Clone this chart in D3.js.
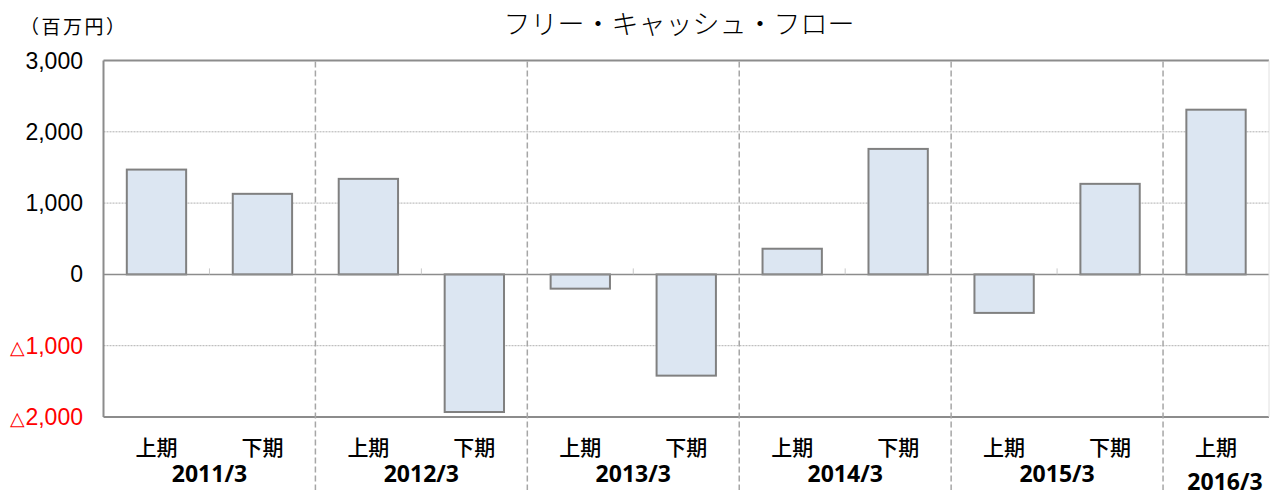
<!DOCTYPE html>
<html>
<head>
<meta charset="utf-8">
<script src="https://cdn.jsdelivr.net/npm/d3@7"></script>
<style>
  body { margin: 0; background: #fff; }
  text { font-family: "Liberation Sans", Arial, sans-serif; }
  .jp { font-family: "Noto Sans CJK JP", sans-serif; }
  .yr { font-family: "Noto Sans", sans-serif; }
</style>
</head>
<body>
<script>
const years = ['2011/3', '2012/3', '2013/3', '2014/3', '2015/3', '2016/3'];
const halves = ['上期', '下期', '上期', '下期', '上期', '下期', '上期', '下期', '上期', '下期', '上期'];
const values = [1470, 1130, 1340, -1930, -200, -1420, 360, 1760, -540, 1270, 2310];
const yTicks = [3000, 2000, 1000, 0, -1000, -2000];

const width = 1270, height = 490;
const margin = { top: 60.5, left: 103.5, right: 1, bottom: 73 };

const svg = d3.select('body').append('svg').attr('width', width).attr('height', height);

const idx = d3.range(values.length);
const x = d3.scaleBand().domain(idx).range([margin.left, width - margin.right]).paddingInner(0.44).paddingOuter(0.22);
const y = d3.scaleLinear().domain([-2000, 3000]).range([height - margin.bottom, margin.top]);
const step = x.step();
const x0 = margin.left;

// gridlines
svg.append('g').selectAll('line')
  .data(yTicks.filter(d => d !== 0 && d !== 3000 && d !== -2000))
  .enter().append('line')
    .attr('x1', x0).attr('x2', width - margin.right)
    .attr('y1', d => y(d)).attr('y2', d => y(d))
    .attr('stroke', '#b0b0b0').attr('stroke-width', 1).attr('stroke-dasharray', '2,1');

// bars
svg.append('g').selectAll('rect')
  .data(values)
  .enter().append('rect')
    .attr('x', (d, i) => x(i))
    .attr('width', x.bandwidth())
    .attr('y', d => y(Math.max(0, d)))
    .attr('height', d => Math.abs(y(d) - y(0)))
    .attr('fill', '#dce6f2')
    .attr('stroke', '#808080').attr('stroke-width', 2);

// zero line + small ticks
svg.append('line')
  .attr('x1', x0).attr('x2', width - margin.right)
  .attr('y1', y(0)).attr('y2', y(0))
  .attr('stroke', '#8c8c8c').attr('stroke-width', 1.5);
svg.append('g').selectAll('line')
  .data(d3.range(1, values.length))
  .enter().append('line')
    .attr('x1', d => x0 + d * step).attr('x2', d => x0 + d * step)
    .attr('y1', y(0)).attr('y2', y(0) - 6)
    .attr('stroke', '#c8c8c8').attr('stroke-width', 1);

// frame
svg.append('line').attr('x1', x0).attr('x2', width - margin.right)
  .attr('y1', y(3000)).attr('y2', y(3000)).attr('stroke', '#8c8c8c').attr('stroke-width', 2);
svg.append('line').attr('x1', x0).attr('x2', width - margin.right)
  .attr('y1', y(-2000)).attr('y2', y(-2000)).attr('stroke', '#8c8c8c').attr('stroke-width', 2);
svg.append('line').attr('x1', x0).attr('x2', x0)
  .attr('y1', y(3000)).attr('y2', y(-2000)).attr('stroke', '#8c8c8c').attr('stroke-width', 2);
svg.append('line').attr('x1', width - margin.right).attr('x2', width - margin.right)
  .attr('y1', y(3000)).attr('y2', y(-2000)).attr('stroke', '#e0e0e0').attr('stroke-width', 1);

// year separators
svg.append('g').selectAll('line')
  .data(d3.range(1, years.length))
  .enter().append('line')
    .attr('x1', d => x0 + d * 2 * step).attr('x2', d => x0 + d * 2 * step)
    .attr('y1', y(3000) + 1).attr('y2', height)
    .attr('stroke', '#a6a6a6').attr('stroke-width', 1.5).attr('stroke-dasharray', '6,3');

// y tick labels
svg.append('g').selectAll('text')
  .data(yTicks)
  .enter().append('text')
    .attr('x', 83).attr('y', d => y(d) + 8)
    .attr('text-anchor', 'end')
    .attr('font-size', 23)
    .attr('fill', d => d < 0 ? '#ff0000' : '#000')
    .html(d => d < 0
      ? `<tspan font-size="19">△</tspan>${d3.format(',')(-d)}`
      : d3.format(',')(d));

// half labels
svg.append('g').selectAll('text')
  .data(halves)
  .enter().append('text')
    .attr('class', 'jp')
    .attr('x', (d, i) => x(i) + x.bandwidth() / 2)
    .attr('y', 455)
    .attr('text-anchor', 'middle')
    .attr('font-size', 21)
    .attr('font-weight', 500)
    .text(d => d);

// year labels
svg.append('g').selectAll('text')
  .data(years)
  .enter().append('text')
    .attr('class', 'yr')
    .attr('x', (d, i) => i < years.length - 1 ? x0 + (i * 2 + 1) * step : x0 + (i * 2 + 0.5) * step + 9)
    .attr('y', (d, i) => i < years.length - 1 ? 482 : 490)
    .attr('text-anchor', 'middle')
    .attr('font-size', 23)
    .attr('font-weight', 'bold')
    .text(d => d);

// unit + title
svg.append('text').attr('class', 'jp')
  .attr('x', 20).attr('y', 34).attr('font-size', 19)
  .attr('letter-spacing', 2.5)
  .text('（百万円）');
svg.append('text').attr('class', 'jp')
  .attr('x', 679).attr('y', 34).attr('text-anchor', 'middle').attr('font-size', 27)
  .attr('font-weight', 300)
  .text('フリー・キャッシュ・フロー');
</script>
</body>
</html>
